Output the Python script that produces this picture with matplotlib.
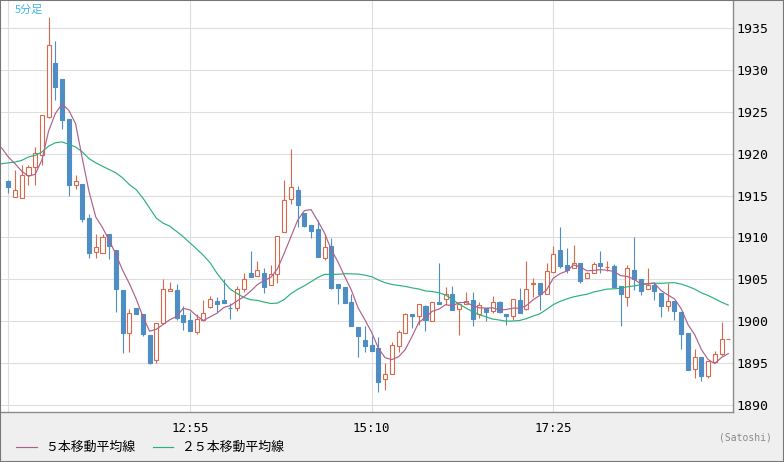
import matplotlib
matplotlib.use('Agg')
import matplotlib.pyplot as plt
from matplotlib.lines import Line2D
from matplotlib.patches import Rectangle
import numpy as np
import pandas as pd

# 5-minute candles, 10:40 .. 19:35
opens = [1916.7, 1914.8, 1914.7, 1917.4, 1918.4, 1919.8, 1924.4, 1930.8, 1928.9, 1924.1,
         1916.3, 1916.4, 1912.3, 1908.3, 1908.1, 1910.4, 1908.5, 1903.7, 1898.6, 1901.6,
         1900.9, 1898.3, 1895.4, 1899.8, 1903.6, 1903.7, 1900.7, 1900.1, 1898.7, 1900.2,
         1901.7, 1902.4, 1902.5, 1901.6, 1901.6, 1903.9, 1905.7, 1905.4, 1905.7, 1904.3,
         1905.6, 1910.6, 1914.6, 1915.7, 1912.9, 1911.5, 1911.0, 1907.6, 1909.0, 1904.4,
         1904.1, 1902.3, 1899.3, 1897.8, 1897.1, 1896.8, 1893.1, 1893.7, 1897.0, 1898.6,
         1900.9, 1900.6, 1901.8, 1900.0, 1902.3, 1902.6, 1903.2, 1901.4, 1902.0, 1902.5,
         1900.8, 1901.6, 1901.2, 1902.3, 1900.9, 1900.6, 1902.5, 1901.4, 1904.4, 1904.6,
         1903.2, 1905.9, 1908.5, 1906.7, 1906.3, 1907.0, 1905.2, 1905.7, 1907.0, 1906.5,
         1906.6, 1904.2, 1902.9, 1906.1, 1905.0, 1903.8, 1904.3, 1903.4, 1901.8, 1902.4,
         1901.1, 1898.6, 1894.3, 1895.7, 1893.4, 1895.1, 1896.1, 1897.9]
highs = [1916.8, 1918.0, 1918.6, 1918.6, 1920.8, 1924.6, 1936.3, 1933.4, 1928.9, 1924.1,
         1917.4, 1916.4, 1912.8, 1910.4, 1910.4, 1910.4, 1908.5, 1903.7, 1901.4, 1901.6,
         1900.9, 1898.3, 1899.8, 1905.0, 1904.7, 1904.4, 1901.8, 1901.1, 1900.9, 1902.5,
         1903.0, 1902.9, 1905.0, 1902.2, 1904.2, 1905.7, 1908.4, 1907.2, 1906.4, 1906.7,
         1910.2, 1916.9, 1920.5, 1916.1, 1912.9, 1911.5, 1912.1, 1910.4, 1909.9, 1904.4,
         1904.1, 1903.3, 1899.3, 1899.4, 1898.2, 1898.1, 1895.0, 1897.5, 1899.0, 1901.0,
         1900.9, 1902.1, 1901.9, 1902.3, 1907.0, 1904.1, 1904.2, 1902.2, 1903.5, 1903.5,
         1902.3, 1901.6, 1903.0, 1902.4, 1900.9, 1902.7, 1904.0, 1907.2, 1905.1, 1904.6,
         1907.0, 1909.0, 1911.3, 1908.7, 1909.1, 1907.0, 1905.9, 1907.1, 1908.4, 1907.2,
         1906.8, 1904.2, 1906.7, 1910.1, 1905.0, 1906.4, 1904.6, 1903.4, 1904.6, 1902.4,
         1901.1, 1898.6, 1896.7, 1895.7, 1895.3, 1896.5, 1899.9, 1897.9]
lows = [1915.3, 1914.8, 1914.7, 1916.2, 1916.2, 1918.6, 1924.2, 1926.4, 1922.9, 1915.0,
        1915.8, 1911.8, 1907.6, 1907.6, 1908.1, 1907.4, 1901.1, 1896.2, 1896.3, 1900.9,
        1898.2, 1894.9, 1895.0, 1899.8, 1903.6, 1900.2, 1899.0, 1898.8, 1898.5, 1900.0,
        1901.6, 1901.1, 1902.2, 1900.3, 1901.2, 1903.5, 1905.3, 1905.4, 1903.4, 1904.3,
        1904.5, 1910.6, 1914.0, 1911.3, 1911.3, 1909.9, 1907.7, 1907.3, 1903.8, 1902.0,
        1902.2, 1899.4, 1895.7, 1896.3, 1896.5, 1891.6, 1891.8, 1893.7, 1896.3, 1898.6,
        1899.2, 1899.6, 1898.8, 1900.0, 1902.1, 1901.9, 1901.3, 1898.4, 1902.0, 1899.4,
        1900.4, 1900.0, 1901.0, 1901.0, 1899.6, 1900.1, 1901.0, 1901.3, 1902.9, 1901.3,
        1903.2, 1905.9, 1906.3, 1905.8, 1906.3, 1904.6, 1905.2, 1905.7, 1905.8, 1906.0,
        1904.1, 1899.4, 1901.8, 1903.7, 1903.1, 1903.8, 1902.5, 1900.5, 1901.2, 1900.2,
        1896.7, 1894.2, 1893.2, 1892.9, 1893.2, 1895.1, 1895.9, 1897.9]
closes = [1916.0, 1915.7, 1917.5, 1918.4, 1920.1, 1924.6, 1933.0, 1927.9, 1924.0, 1916.3,
          1916.7, 1912.2, 1908.1, 1908.9, 1910.0, 1909.0, 1903.8, 1898.6, 1901.0, 1900.9,
          1898.5, 1895.0, 1899.8, 1903.8, 1903.8, 1900.4, 1899.9, 1898.8, 1900.3, 1901.0,
          1902.6, 1902.0, 1902.2, 1901.55, 1903.8, 1905.0, 1905.3, 1906.1, 1904.1, 1905.6,
          1910.2, 1914.5, 1916.0, 1913.9, 1911.4, 1910.8, 1907.7, 1908.8, 1904.0, 1904.0,
          1902.2, 1899.4, 1898.2, 1897.0, 1896.5, 1892.8, 1893.7, 1897.1, 1898.7, 1900.8,
          1900.6, 1902.0, 1900.2, 1902.3, 1902.1, 1903.3, 1901.3, 1902.1, 1902.4, 1900.3,
          1901.9, 1901.1, 1902.3, 1901.1, 1900.6, 1902.7, 1901.0, 1903.9, 1904.6, 1903.2,
          1906.0, 1908.0, 1906.6, 1906.1, 1906.9, 1904.8, 1905.7, 1906.8, 1906.6, 1906.5,
          1904.1, 1903.2, 1906.3, 1905.0, 1903.6, 1904.3, 1903.6, 1901.8, 1902.4, 1901.2,
          1898.5, 1894.2, 1895.7, 1893.5, 1895.2, 1896.1, 1897.9, 1897.9]

# moving averages before enough bars are on screen (from one bar earlier)
ma5_head = [1920.7, 1919.6, 1918.8, 1917.9, 1917.3]
ma25_head = [1918.8, 1918.9, 1919.0, 1919.2, 1919.6, 1919.8, 1920.2, 1920.9, 1921.3, 1921.4,
             1921.1, 1920.8, 1920.2, 1919.4, 1918.9, 1918.5, 1918.1, 1917.7, 1917.1, 1916.3,
             1915.7, 1914.7, 1913.5, 1912.3, 1911.7]

tick_pos = [0, 27, 54, 81]
tick_labels = ['', '12:55', '15:10', '17:25']
y_ticks = [1890, 1895, 1900, 1905, 1910, 1915, 1920, 1925, 1930, 1935]

RED = '#d9694a'
BLUE = '#4f8ec4'
MA5_C = '#b0608c'
MA25_C = '#2bb27a'
CJK = ['Noto Sans CJK JP', 'DejaVu Sans']

W, H = 784, 462
fig = plt.figure(figsize=(W / 100, H / 100), dpi=100)
fig.patch.set_facecolor('#efefef')

ax = fig.add_axes([0, (H - 412) / H, 733 / W, 412 / H])
ax.set_facecolor('white')

n = len(closes)
x = np.arange(n)
o = np.array(opens)
c = np.array(closes)
up = c >= o

# wicks
ax.vlines(x[up], np.array(lows)[up], np.array(highs)[up], color=RED, lw=0.8, zorder=2)
ax.vlines(x[~up], np.array(lows)[~up], np.array(highs)[~up], color=BLUE, lw=0.8, zorder=2)

# bodies: hollow red for up bars, solid blue for down bars
bottoms = np.minimum(o, c)
heights = np.abs(c - o)
ax.bar(x[up], heights[up], bottom=bottoms[up], width=0.6, facecolor='white',
       edgecolor=RED, lw=0.8, zorder=3)
ax.bar(x[~up], heights[~up], bottom=bottoms[~up], width=0.6, facecolor=BLUE,
       edgecolor=BLUE, lw=0.8, zorder=3)

# moving averages
cs = pd.Series(closes)
ma5 = cs.rolling(5).mean().to_numpy()
ma25 = cs.rolling(25).mean().to_numpy()
ma5_full = np.concatenate([ma5_head, ma5[4:]])
ma25_full = np.concatenate([ma25_head, ma25[24:]])
xm = np.arange(-1, n)
ax.plot(xm, ma25_full, color=MA25_C, lw=0.85, zorder=4)
ax.plot(xm, ma5_full, color=MA5_C, lw=0.85, zorder=5)

ax.set_xlim(-1.233, 107.7)
ax.set_ylim(1889.16, 1938.34)

ax.set_xticks(tick_pos)
ax.set_xticklabels(tick_labels, fontfamily='DejaVu Sans Mono', fontsize=9)
ax.set_yticks(y_ticks)
ax.set_yticklabels([str(v) for v in y_ticks], fontfamily='DejaVu Sans Mono', fontsize=9.5)
ax.yaxis.tick_right()
ax.tick_params(axis='both', length=0, colors='black')
ax.tick_params(axis='x', pad=7)
ax.tick_params(axis='y', pad=2.5)
ax.grid(True, color='#dedede', lw=0.8, zorder=0)
ax.set_axisbelow(True)

for side in ['top', 'left']:
    ax.spines[side].set_visible(False)
for side in ['right', 'bottom']:
    ax.spines[side].set_color('#8c8c8c')
    ax.spines[side].set_linewidth(1.0)

fig.text(15 / W, 1 - 10 / H, '5分足', fontsize=8, color='#3db6e6',
         family=CJK, va='center', ha='left')

# legend
ly = 1 - 447 / H
fig.add_artist(Line2D([16 / W, 37 / W], [ly, ly], color=MA5_C, lw=0.85))
fig.text(45 / W, ly, '５本移動平均線', fontsize=9.3, family=CJK, va='center', ha='left')
fig.add_artist(Line2D([153 / W, 173 / W], [ly, ly], color=MA25_C, lw=0.85))
fig.text(181 / W, ly, '２５本移動平均線', fontsize=9.3, family=CJK, va='center', ha='left')

fig.text(772 / W, 1 - 438 / H, '(Satoshi)', fontsize=7, color='#8a8a8a',
         family='DejaVu Sans Mono', va='center', ha='right')

# outer frame
fig.add_artist(Rectangle((0, 0), 1, 1, transform=fig.transFigure, fill=False,
                         edgecolor='#767676', lw=1.5))

fig.savefig('out.png', dpi=100, facecolor=fig.get_facecolor())
